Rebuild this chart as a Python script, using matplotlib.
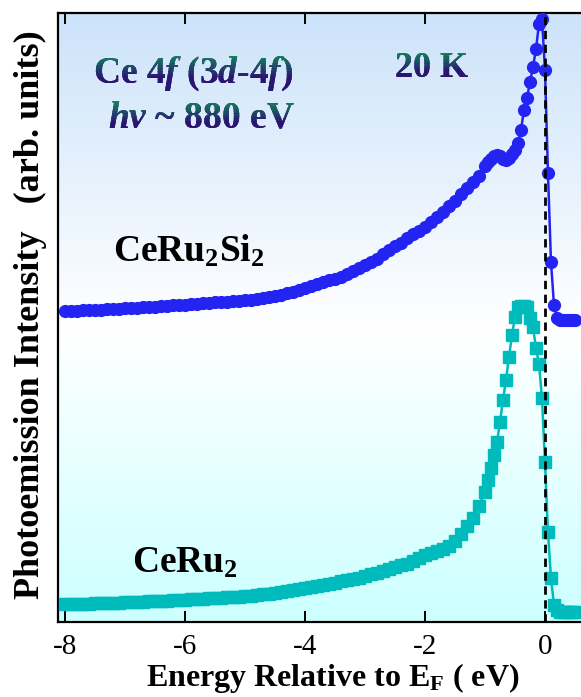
import numpy as np
import matplotlib
matplotlib.use('Agg')
import matplotlib.pyplot as plt
from matplotlib.colors import to_rgb
from matplotlib.transforms import Bbox

plt.rcParams['font.family'] = ['Liberation Serif', 'DejaVu Serif']
plt.rcParams['mathtext.fontset'] = 'custom'
plt.rcParams['mathtext.rm'] = 'Liberation Serif:bold'
plt.rcParams['mathtext.it'] = 'Liberation Serif:italic:bold'
plt.rcParams['mathtext.bf'] = 'Liberation Serif:bold'

# energy grid: 0.1 eV steps to -1.0 eV, then 0.05 eV steps
energy = np.round(np.concatenate([np.arange(-8.0, -0.95, 0.1),
                                  np.arange(-0.95, 0.501, 0.05)]), 2)

# CeRu2Si2 (circles), arb. units
ceru2si2 = [313, 313, 313, 313.5, 314, 314, 314, 314.5, 315, 315,
            315.5, 316, 316, 316.5, 317, 317, 317.5, 318, 318.5, 319,
            319, 319.5, 320, 320.5, 321, 321.5, 322, 322, 322.5, 323,
            323.5, 324, 324.5, 325.5, 327, 328, 329, 330.5, 332, 334,
            336, 338, 340, 342, 343.5, 345, 347, 350, 353, 356,
            359, 362, 365, 370, 374, 378, 381, 386, 390, 393,
            397, 402, 407, 412, 418, 423, 430, 436, 442, 448,
            458,
            462, 465, 468, 469, 468, 465, 464, 466, 470, 474,
            481, 494, 514, 526, 542, 557, 575, 600, 605, 554,
            451, 362, 319, 306, 304, 304, 304, 304, 304, 304]

# CeRu2 (squares), arb. units
ceru2 = [20, 20, 20, 20.5, 20.5, 21, 21, 21, 21.5, 21.5,
         22, 22, 22.5, 22.5, 23, 23, 23.5, 23.5, 24, 24,
         24.5, 25, 25, 25.5, 26, 26, 26.5, 27, 27, 27.5,
         28, 28.5, 29, 30, 30.5, 31, 32, 33, 34, 35,
         36, 37, 38, 39, 40, 41.5, 43, 44, 45, 46.5,
         48, 50, 51, 53, 55, 57, 59, 60, 63, 66,
         69, 71, 73, 75, 78, 83, 90, 98, 106, 118,
         132,
         144, 156, 169, 182, 202, 224, 244, 267, 289, 307,
         317, 318, 318, 317, 306, 297, 276, 260, 226, 162,
         92, 46, 19, 14, 12, 12, 12, 12, 12, 12]

blue = '#2424f2'
teal = '#00bbbb'

fig = plt.figure(figsize=(5.81, 6.97), dpi=100)
ax = fig.add_axes([58 / 581, 75 / 697, 524 / 581, 609 / 697])

# background gradient: light blue top -> white -> light cyan bottom
top_c = np.array([0.80, 0.89, 0.98])
mid_c = np.array([1.0, 1.0, 1.0])
bot_c = np.array([0.80, 1.0, 1.0])
f = np.linspace(1, 0, 300)[:, None]
grad = np.where(f > 0.48,
                mid_c + (top_c - mid_c) * (f - 0.48) / 0.52,
                bot_c + (mid_c - bot_c) * f / 0.48)
ax.imshow(grad[:, None, :], extent=(0, 1, 0, 1), transform=ax.transAxes,
          aspect='auto', zorder=0, interpolation='bilinear')

ax.plot(energy, ceru2si2, '-o', color=blue, ms=8.5, lw=1.8, mec=blue, zorder=3)
ax.plot(energy, ceru2, '-s', color=teal, ms=8, lw=1.8, mec=teal, zorder=3)
ax.axvline(0, color='black', ls=(0, (3, 2)), lw=2.0, zorder=4)

ax.set_xlim(-8.117, 0.617)
ax.set_ylim(2, 611)
ax.set_xticks([-8, -6, -4, -2, 0])
ax.set_xticklabels(['-8', '-6', '-4', '-2', '0'])
ax.set_yticks([])
ax.tick_params(axis='x', direction='in', top=True, length=8, width=1.4,
               labelsize=21, pad=9)
for side in ['left', 'bottom', 'top']:
    ax.spines[side].set_linewidth(1.6)
ax.spines['right'].set_visible(False)

fig.text(333 / 581, 1 - 678 / 697, r'Energy Relative to E$_{\rm F}$ ( eV)',
         ha='center', va='center', fontsize=23, fontweight='bold')
fig.text(30 / 581, 1 - 315 / 697, 'Photoemission Intensity   (arb. units)',
         ha='center', va='center', rotation=90, fontsize=26, fontweight='bold')

ax.text(113 / 581, 1 - 262 / 697, r'CeRu$_2$Si$_2$', transform=fig.transFigure,
        fontsize=27, fontweight='bold')
ax.text(132 / 581, 1 - 573 / 697, r'CeRu$_2$', transform=fig.transFigure,
        fontsize=27, fontweight='bold')


def gradient_text(x, y, s, top, bottom, n=14, **kw):
    base = ax.text(x, y, s, color=bottom, transform=fig.transFigure, **kw)
    bb = base.get_window_extent(renderer=fig.canvas.get_renderer())
    c_top, c_bot = np.array(to_rgb(top)), np.array(to_rgb(bottom))
    for i in range(n):
        y1 = bb.y1 - bb.height * i / n
        y0 = bb.y1 - bb.height * (i + 1) / n
        t = min(1.0, (i + 0.5) / (n * 0.6))
        col = c_top + (c_bot - c_top) * t
        txt = ax.text(x, y, s, color=col, transform=fig.transFigure,
                      clip_on=True, **kw)
        txt.set_clip_path(None)
        txt.set_clip_box(Bbox.from_extents(bb.x0 - 5, y0 - 0.5, bb.x1 + 5, y1 + 0.5))


green = '#0f8a5a'
purple = '#2a1670'
gradient_text(93 / 581, 1 - 83 / 697, r'Ce 4$\it{f}$ (3$\it{d}$-4$\it{f}$)',
              green, purple, fontsize=27, fontweight='bold')
gradient_text(108 / 581, 1 - 128 / 697, r'$\it{h\nu}$ ~ 880 eV',
              green, purple, fontsize=27, fontweight='bold')
gradient_text(395 / 581, 1 - 77 / 697, '20 K',
              green, purple, fontsize=26, fontweight='bold')

fig.savefig('out.png', dpi=100)
